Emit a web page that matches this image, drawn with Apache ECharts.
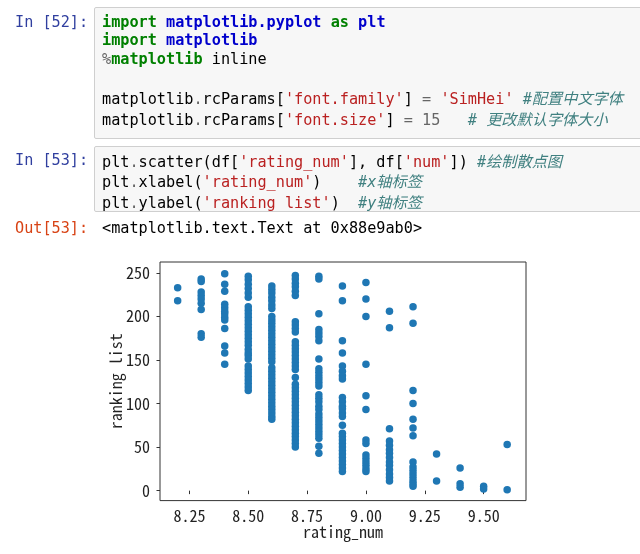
<!DOCTYPE html>
<html>
<head>
<meta charset="utf-8">
<script src="https://cdn.jsdelivr.net/npm/echarts@6/dist/echarts.min.js"></script>
<style>
  html, body { margin: 0; padding: 0; background: #fff; }
  #page { position: relative; width: 640px; height: 554px; overflow: hidden; }
  #chart { position: absolute; left: 0; top: 0; width: 640px; height: 554px; }
  .box { position: absolute; left: 94px; width: 600px; background: #f7f7f7; border: 1px solid #cfcfcf; border-radius: 2px; }
  .prompt, pre { position: absolute; margin: 0; font-family: "DejaVu Sans Mono", "Liberation Mono", monospace; font-size: 15.2px; line-height: 18.8px; }
  .prompt { left: 15px; }
  .in { color: #303F9F; }
  .out { color: #D84315; }
  pre { left: 102px; color: #000; }
  .k { color: #008000; font-weight: bold; }
  .nn { color: #0000CC; font-weight: bold; }
  .s { color: #BA2121; }
  .o { color: #666666; }
  .m { color: #666666; }
  .c { color: #408080; font-style: italic; }
  .c i { font-family: "Noto Sans CJK SC", sans-serif; font-style: italic; }
</style>
</head>
<body>
<div id="page">
  <div id="chart"></div>
  <div class="box" style="top:7px;height:130px"></div>
  <div class="prompt in" style="top:12.6px">In [52]:</div>
<pre style="top:12.6px"><span class="k">import</span> <span class="nn">matplotlib.pyplot</span> <span class="k">as</span> <span class="nn">plt</span>
<span class="k">import</span> <span class="nn">matplotlib</span>
<span class="o">%</span><span class="k">matplotlib</span> inline

matplotlib<span class="o">.</span>rcParams[<span class="s">'font.family'</span>] <span class="o">=</span> <span class="s">'SimHei'</span> <span class="c">#<i>配置中文字体</i></span>
matplotlib<span class="o">.</span>rcParams[<span class="s">'font.size'</span>] <span class="o">=</span> <span class="m">15</span>   <span class="c"># <i>更改默认字体大小</i></span></pre>
  <div class="box" style="top:146px;height:64px"></div>
  <div class="prompt in" style="top:150.6px">In [53]:</div>
<pre style="top:150.6px">plt<span class="o">.</span>scatter(df[<span class="s">'rating_num'</span>], df[<span class="s">'num'</span>]) <span class="c">#<i>绘制散点图</i></span>
plt<span class="o">.</span>xlabel(<span class="s">'rating_num'</span>)    <span class="c">#x<i>轴标签</i></span>
plt<span class="o">.</span>ylabel(<span class="s">'ranking list'</span>)  <span class="c">#y<i>轴标签</i></span></pre>
  <div class="prompt out" style="top:218.6px">Out[53]:</div>
  <pre style="top:218.6px">&lt;matplotlib.text.Text at 0x88e9ab0&gt;</pre>
</div>
<script>
// 评分 (rating_num) 与每个评分下电影的排名 (num)
var ratings = [8.2, 8.3, 8.4, 8.5, 8.6, 8.7, 8.8, 8.9, 9.0, 9.1, 9.2, 9.3, 9.4, 9.5, 9.6];
var rank82 = [233, 218];
var rank83 = [243, 240, 228, 224, 220, 215, 208, 180, 176];
var rank84 = [249, 237, 229, 214, 210, 206, 203, 199, 196, 186, 166, 158, 145];
var rank85 = [246, 242, 237, 232, 227, 222, 211, 207, 203, 199, 195, 191, 187, 183, 179, 175, 171, 167, 162, 158, 155, 151, 143, 139, 135, 131, 127, 123, 119, 115];
var rank86 = [235, 231, 227, 222, 218, 213, 209, 200, 196, 192, 188, 184, 180, 176, 172, 168, 164, 160, 156, 152, 148, 141, 137, 133, 129, 125, 121, 117, 113, 109, 105, 101, 97, 93, 89, 85, 82];
var rank87 = [247, 243, 238, 234, 229, 224, 194, 190, 186, 182, 171, 167, 163, 159, 155, 151, 147, 143, 139, 130, 122, 118, 114, 110, 106, 102, 98, 94, 90, 86, 82, 78, 74, 70, 66, 62, 58, 54, 50];
var rank88 = [246, 243, 203, 185, 181, 177, 172, 151, 140, 136, 132, 128, 124, 120, 110, 106, 102, 97, 93, 88, 84, 80, 76, 72, 68, 64, 60, 51, 43];
var rank89 = [235, 218, 172, 158, 143, 137, 132, 128, 107, 102, 97, 94, 89, 85, 75, 66, 62, 58, 54, 50, 46, 42, 38, 34, 30, 26, 22];
var rank90 = [239, 220, 200, 145, 109, 93, 58, 54, 41, 37, 33, 29, 25, 22];
var rank91 = [206, 187, 71, 57, 52, 47, 43, 38, 33, 29, 24, 19, 15, 11];
var rank92 = [211, 192, 115, 100, 82, 72, 63, 33, 27, 23, 19, 15, 11, 8, 5];
var rank93 = [42, 11];
var rank94 = [26, 8, 4];
var rank95 = [5, 2];
var rank96 = [53, 1];
var rankLists = [rank82, rank83, rank84, rank85, rank86, rank87, rank88, rank89, rank90, rank91, rank92, rank93, rank94, rank95, rank96];

var xTicks = [8.25, 8.5, 8.75, 9.0, 9.25, 9.5];
var yTicks = [0, 50, 100, 150, 200, 250];

var points = [];
ratings.forEach(function (r, i) {
	rankLists[i].forEach(function (n) {
		points.push([r, n]);
	});
});

var monoFont = '"Noto Sans Mono CJK SC", "DejaVu Sans Mono", monospace';
var chart = echarts.init(document.getElementById('chart'));
chart.setOption({
	animation: false,
	grid: {
		left: 160,
		top: 262,
		right: 114,
		bottom: 53.4,
		show: true,
		borderColor: '#333',
		borderWidth: 1
	},
	xAxis: {
		type: 'value',
		min: 8.125,
		max: 9.68,
		name: 'rating_num',
		nameLocation: 'middle',
		nameGap: 23,
		nameMoveOverlap: false,
		nameTextStyle: { color: '#222', fontSize: 16, fontFamily: monoFont },
		axisLine: { show: false },
		axisTick: { show: true, length: 3.5, customValues: xTicks, lineStyle: { color: '#333' } },
		axisLabel: {
			customValues: xTicks,
			margin: 7,
			color: '#222',
			fontSize: 16,
			fontFamily: monoFont,
			formatter: function (v) { return v.toFixed(2); }
		},
		splitLine: { show: false }
	},
	yAxis: {
		type: 'value',
		min: -11.45,
		max: 262.45,
		name: 'ranking list',
		nameLocation: 'middle',
		nameGap: 36,
		nameMoveOverlap: false,
		nameTextStyle: { color: '#222', fontSize: 16, fontFamily: monoFont },
		axisLine: { show: false },
		axisTick: { show: true, length: 3.5, customValues: yTicks, lineStyle: { color: '#333' } },
		axisLabel: {
			customValues: yTicks,
			margin: 10,
			color: '#222',
			fontSize: 16,
			fontFamily: monoFont
		},
		splitLine: { show: false }
	},
	series: [{
		type: 'scatter',
		data: points,
		symbolSize: 7.5,
		itemStyle: { color: '#1f77b4', opacity: 1 }
	}]
});
</script>
</body>
</html>
